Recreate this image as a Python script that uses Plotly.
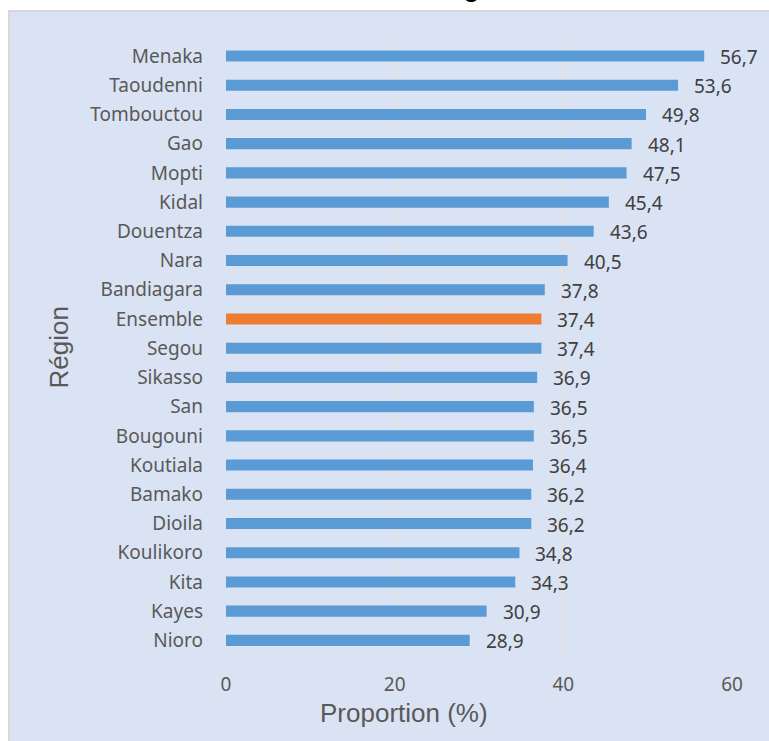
import plotly.graph_objects as go

regions = ['Menaka', 'Taoudenni', 'Tombouctou', 'Gao', 'Mopti', 'Kidal', 'Douentza',
           'Nara', 'Bandiagara', 'Ensemble', 'Segou', 'Sikasso', 'San', 'Bougouni',
           'Koutiala', 'Bamako', 'Dioila', 'Koulikoro', 'Kita', 'Kayes', 'Nioro']
proportions = [56.7, 53.6, 49.8, 48.1, 47.5, 45.4, 43.6, 40.5, 37.8, 37.4, 37.4,
               36.9, 36.5, 36.5, 36.4, 36.2, 36.2, 34.8, 34.3, 30.9, 28.9]
x_ticks = [0, 20, 40, 60]

BLUE = '#5B9BD5'
ORANGE = '#ED7D31'
PANEL = '#DAE3F3'
FONT = 'Noto Sans'
TITLE_FONT = 'Liberation Sans'

# orange for the national total, blue for the rest
bar_colors = [ORANGE if r == 'Ensemble' else BLUE for r in regions]
labels = [('%.1f' % v).replace('.', ',') for v in proportions]

fig = go.Figure(go.Bar(
    x=proportions, y=regions, orientation='h',
    marker=dict(color=bar_colors, line=dict(width=0)),
    width=0.38,
))

# data labels to the right of each bar
for r, v, t in zip(regions, proportions, labels):
    fig.add_annotation(x=v, y=r, text=t, showarrow=False, xanchor='left',
                       xshift=14, yshift=-1,
                       font=dict(family=FONT, size=19, color='#404040'))

# chart panel (light blue box with grey border)
fig.add_shape(type='rect', xref='paper', yref='paper',
              x0=-0.429, x1=1.08, y0=-0.15, y1=1.047,
              fillcolor=PANEL, line=dict(color='#D0D0D0', width=1.5), layer='below')

# axis titles
fig.add_annotation(x=0.352, y=-0.094, xref='paper', yref='paper', text='Proportion (%)',
                   showarrow=False, yanchor='middle',
                   font=dict(family=TITLE_FONT, size=26, color='#595959'))
fig.add_annotation(x=-0.332, y=0.5, xref='paper', yref='paper', text='Région',
                   showarrow=False, textangle=-90, xanchor='center', yanchor='middle',
                   font=dict(family=TITLE_FONT, size=26, color='#595959'))

# title, mostly cut off above the picture
fig.add_annotation(x=0.417, y=1.0, xref='paper', yref='paper', text='<b>région</b>',
                   showarrow=False, xanchor='left', yanchor='bottom', yshift=35,
                   font=dict(family=TITLE_FONT, size=26, color='#000000'))

fig.update_layout(
    width=769, height=741,
    margin=dict(l=226, r=37, t=40, b=86),
    paper_bgcolor='white', plot_bgcolor=PANEL,
    showlegend=False,
    font=dict(family=FONT, color='#595959'),
    xaxis=dict(range=[0, 60], tickvals=x_ticks, showgrid=True, gridcolor='#E4E2DE',
               gridwidth=1.5, zeroline=False, showline=False,
               tickfont=dict(size=19, color='#595959'), ticklabelstandoff=16),
    yaxis=dict(categoryorder='array', categoryarray=regions, autorange='reversed',
               showgrid=False, zeroline=False, showline=False,
               tickfont=dict(size=19, color='#595959'), ticklabelstandoff=22),
)

fig.write_html('out.html', config={'displayModeBar': False},
               post_script="document.body.style.margin='0';")
